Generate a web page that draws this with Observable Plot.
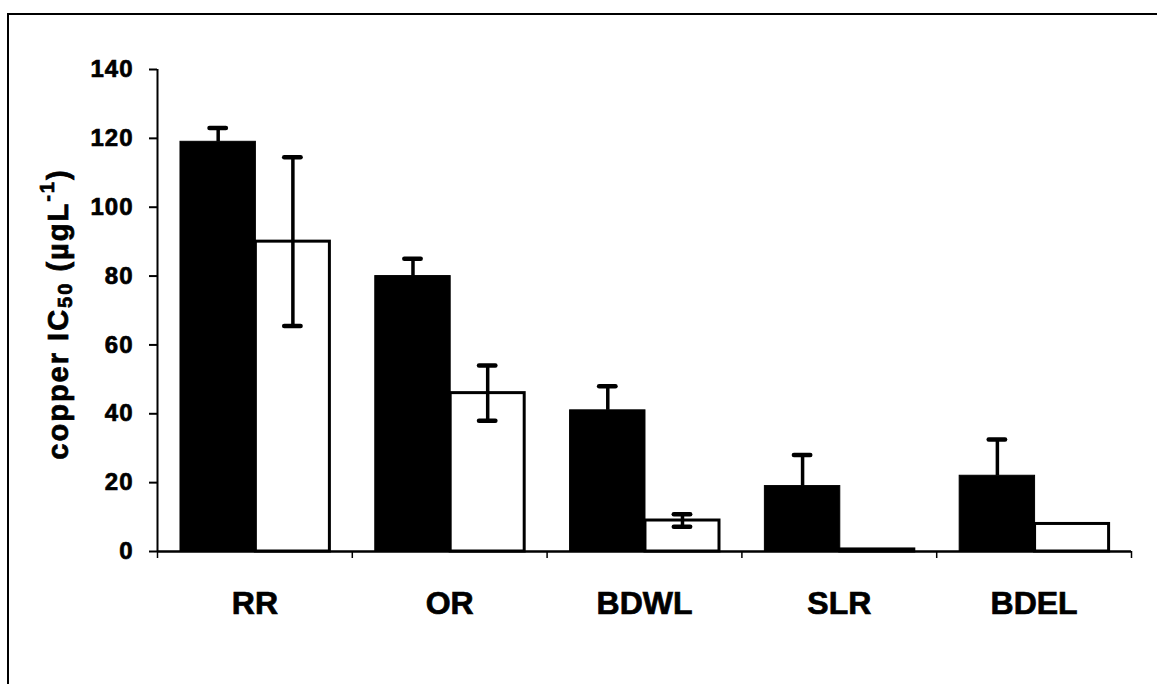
<!DOCTYPE html>
<html>
<head>
<meta charset="utf-8">
<script src="https://cdn.jsdelivr.net/npm/d3@7"></script>
<script src="https://cdn.jsdelivr.net/npm/@observablehq/plot@0.6"></script>
<style>
  html, body { margin: 0; padding: 0; background: #fff; overflow: hidden; }
  #wrap { position: relative; width: 1157px; height: 684px; }
  #frame { position: absolute; left: 7px; top: 13px; width: 1300px; height: 800px; border: 2px solid #000; box-sizing: border-box; }
  #chart { position: absolute; left: 0; top: 0; }
  #chart svg text { font-family: "Liberation Sans", Arial, sans-serif; stroke: #000; stroke-width: 0.7px; }
  g[aria-label="y-axis tick label"] text { letter-spacing: 1px; }
</style>
</head>
<body>
<div id="wrap">
  <div id="frame"></div>
  <div id="chart"></div>
</div>
<script>
const categories = ["RR", "OR", "BDWL", "SLR", "BDEL"];
const blackValues = [119, 80, 41, 19, 22];
const blackErrors = [4, 5, 7, 9, 10.5];
const whiteValues = [90, 46, 9, 0.6, 8];
const whiteErrors = [24.5, 8, 1.8, 0, 0];
const yTicks = [0, 20, 40, 60, 80, 100, 120, 140];

const black = categories.map((c, i) => ({i, c, v: blackValues[i], e: blackErrors[i]}));
const white = categories.map((c, i) => ({i, c, v: whiteValues[i], e: whiteErrors[i]}));
const whiteErr = white.filter(d => d.e > 0);

// layout within each category slot (fractions of the slot)
const L = 0.118, M = 0.505, R = 0.885, CAP = 0.042;
const bc = (L + M) / 2, wc = (M + R) / 2;

const plot = Plot.plot({
  width: 1157,
  height: 684,
  marginLeft: 157,
  marginRight: 26,
  marginTop: 69,
  marginBottom: 133,
  style: {background: "transparent", fontFamily: "Liberation Sans, Arial, sans-serif", color: "#000"},
  x: {type: "linear", domain: [0, categories.length], axis: null},
  y: {domain: [0, 140], axis: null},
  marks: [
    // bars
    Plot.rectY(black, {x1: d => d.i + L, x2: d => d.i + M, y1: 0, y2: "v", fill: "#000", stroke: "#000", strokeWidth: 1}),
    Plot.rectY(white, {x1: d => d.i + M, x2: d => d.i + R, y1: 0, y2: "v", fill: "#fff", stroke: "#000", strokeWidth: 3}),
    // error bars (black: upper only)
    Plot.ruleX(black, {x: d => d.i + bc, y1: "v", y2: d => d.v + d.e, stroke: "#000", strokeWidth: 3.5}),
    Plot.ruleY(black, {y: d => d.v + d.e, x1: d => d.i + bc - CAP, x2: d => d.i + bc + CAP, stroke: "#000", strokeWidth: 4.5, strokeLinecap: "round"}),
    // white: both directions
    Plot.ruleX(whiteErr, {x: d => d.i + wc, y1: d => d.v - d.e, y2: d => d.v + d.e, stroke: "#000", strokeWidth: 3.5}),
    Plot.ruleY(whiteErr, {y: d => d.v + d.e, x1: d => d.i + wc - CAP, x2: d => d.i + wc + CAP, stroke: "#000", strokeWidth: 4.5, strokeLinecap: "round"}),
    Plot.ruleY(whiteErr, {y: d => d.v - d.e, x1: d => d.i + wc - CAP, x2: d => d.i + wc + CAP, stroke: "#000", strokeWidth: 4.5, strokeLinecap: "round"}),
    // axes
    Plot.ruleX([0], {y1: 0, y2: 140, stroke: "#000", strokeWidth: 2}),
    Plot.ruleY([0], {x1: 0, x2: categories.length, stroke: "#000", strokeWidth: 2.5}),
    Plot.axisY({ticks: yTicks, tickSize: 8, tickPadding: 16, fontSize: 24, fontWeight: "bold", strokeWidth: 2, stroke: "#000", fill: "#000", label: null}),
    Plot.axisX({ticks: d3.range(categories.length + 1), tickSize: 7, tickFormat: () => "", strokeWidth: 1.5, stroke: "#000", label: null}),
    // category labels
    Plot.text(categories, {x: (d, i) => i + 0.5, y: 0, text: d => d, dy: 52, fontSize: 32, fontWeight: "bold", fill: "#000"})
  ]
});

document.getElementById("chart").append(plot);

// y-axis title with subscript and superscript
const svg = d3.select(plot);
const t = svg.append("text")
  .attr("transform", "translate(58,314) rotate(-90)")
  .attr("text-anchor", "middle")
  .attr("dominant-baseline", "central")
  .attr("font-size", 29)
  .attr("font-weight", "bold")
  .attr("letter-spacing", "2px")
  .attr("fill", "#000");
t.append("tspan").text("copper IC");
t.append("tspan").attr("font-size", 20).attr("dy", 7).text("50");
t.append("tspan").attr("dy", -7).text(" (µgL");
t.append("tspan").attr("font-size", 20).attr("dy", -11).text("-1");
t.append("tspan").attr("dy", 11).text(")");
</script>
</body>
</html>
